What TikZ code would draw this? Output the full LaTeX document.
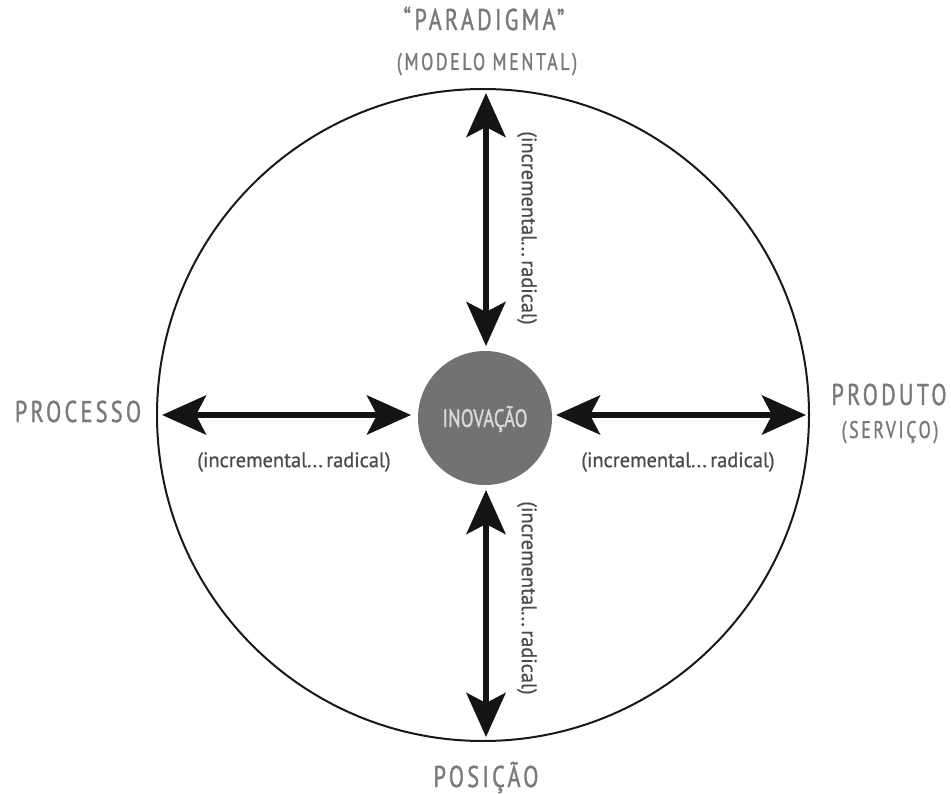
\documentclass[tikz,border=0pt]{standalone}
\usepackage{fontspec}
\setmainfont{PT Sans}
\newfontfamily\capsfont[FakeStretch=0.74,LetterSpace=11,FakeBold=1.2]{PT Sans}
\newfontfamily\innerfont[FakeStretch=0.74,LetterSpace=1,FakeBold=1.2]{PT Sans}
\newfontfamily\labfont[FakeStretch=0.97,FakeBold=0.6]{PT Sans}
\usetikzlibrary{arrows.meta}
\definecolor{lblgray}{HTML}{7A7A7A}
\definecolor{txtgray}{HTML}{4A4A4A}
\definecolor{hubgray}{HTML}{727272}
\tikzset{
  big/.style={draw=black!90,line width=2pt},
  hub/.style={circle,fill=hubgray,minimum size=134pt,inner sep=0pt},
  twoway/.style={line width=6pt,{Stealth[length=44pt,width=39pt,inset=10pt]}-{Stealth[length=44pt,width=39pt,inset=10pt]},black!92},
  axlabel/.style={text=lblgray,font=\capsfont\fontsize{30}{32}\selectfont,inner sep=0pt,anchor=base},
  sublabel/.style={text=lblgray,font=\capsfont\fontsize{24}{26}\selectfont,inner sep=0pt,anchor=base},
  rangelabel/.style={text=txtgray,font=\labfont\fontsize{21}{23}\selectfont,inner sep=0pt}
}
\begin{document}
\begin{tikzpicture}[x=1pt,y=-1pt]
\useasboundingbox (0,0) rectangle (951,794);
\node[circle,big,minimum size=652pt,inner sep=0pt] (rim) at (483,415) {};
\node[hub] (hub) at (485,418) {};
\node[text=white!85!black,font=\innerfont\fontsize{25}{27}\selectfont,inner sep=0pt] (inov) at (485,419) {INOVAÇÃO};
% arrow endpoints
\coordinate (tA) at (486,93);
\coordinate (tB) at (486,346);
\coordinate (bA) at (486,490);
\coordinate (bB) at (486,737);
\coordinate (lA) at (162,415);
\coordinate (lB) at (411,415);
\coordinate (rA) at (556,415);
\coordinate (rB) at (806,415);
\draw[twoway] (tA) -- (tB);
\draw[twoway] (bA) -- (bB);
\draw[twoway] (lA) -- (lB);
\draw[twoway] (rA) -- (rB);
% range labels
\node[rangelabel] (lt) at (294,462) {(incremental...\,radical)};
\node[rangelabel] (rt) at (678,462) {(incremental...\,radical)};
\node[rangelabel,rotate=-90] (tt) at (527,228) {(incremental...\,radical)};
\node[rangelabel,rotate=-90] (bt) at (527,598) {(incremental...\,radical)};
% axis labels
\node[axlabel] (par) at (484,30) {“PARADIGMA”};
\node[sublabel] (mod) at (487,70) {(MODELO MENTAL)};
\node[axlabel] (proc) at (78,422) {PROCESSO};
\node[axlabel] (prod) at (889,405) {PRODUTO};
\node[sublabel] (serv) at (890,438) {(SERVIÇO)};
\node[axlabel] (pos) at (486,787) {POSIÇÃO};
\end{tikzpicture}
\end{document}
